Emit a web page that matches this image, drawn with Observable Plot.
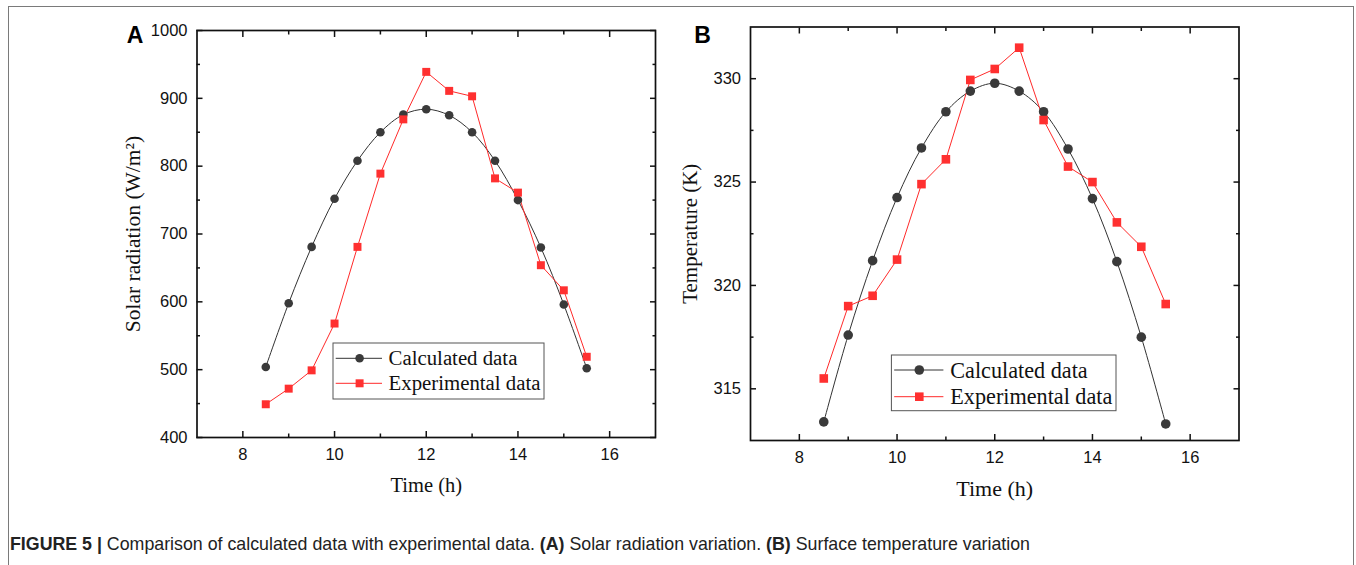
<!DOCTYPE html>
<html><head><meta charset="utf-8">
<script src="https://cdn.jsdelivr.net/npm/d3@7"></script>
<script src="https://cdn.jsdelivr.net/npm/@observablehq/plot@0.6"></script>
<style>
html,body{margin:0;padding:0;background:#fff;}
#fig{position:relative;width:1356px;height:565px;overflow:hidden;background:#fff;}
.panel{position:absolute;top:0;width:678px;height:510px;}
.panel svg{position:absolute;left:0;top:0;}
#border{position:absolute;left:8px;top:6px;width:1346px;height:620px;border:1px solid #7a7a7a;box-sizing:border-box;}
#caption{position:absolute;left:10px;top:534px;font-family:"Liberation Sans Narrow","Liberation Sans",Arial,sans-serif;font-size:17.8px;color:#222;white-space:nowrap;}
</style></head>
<body><div id="fig"><div id="border"></div>
<div id="A" class="panel" style="left:0px"></div>
<div id="B" class="panel" style="left:678px"></div>
<div id="caption"><b>FIGURE 5 |</b> Comparison of calculated data with experimental data. <b>(A)</b> Solar radiation variation. <b>(B)</b> Surface temperature variation</div>
</div>
<script>
// ---------- data ----------
const time = [8.5, 9, 9.5, 10, 10.5, 11, 11.5, 12, 12.5, 13, 13.5, 14, 14.5, 15, 15.5];
const radCalc = [504, 598, 681, 752, 808, 850, 876, 884, 875, 850, 808, 750, 680, 596, 502];
const radExp  = [449, 472, 499, 568, 681, 789, 869, 939, 911, 903, 782, 761, 654, 617, 519];
const tempCalc = [313.4, 317.6, 321.2, 324.25, 326.65, 328.4, 329.4, 329.78, 329.4, 328.4, 326.6, 324.2, 321.15, 317.5, 313.3];
const tempExp  = [315.5, 319.0, 319.5, 321.25, 324.9, 326.1, 329.94, 330.47, 331.5, 328.0, 325.75, 325.0, 323.05, 321.87, 319.1];
const seriesNames = ["Calculated data", "Experimental data"];
const xMajor = [8, 10, 12, 14, 16];
const xMinor = [9, 11, 13, 15];
const radMajor = [400, 500, 600, 700, 800, 900, 1000];
const radMinor = [450, 550, 650, 750, 850, 950];
const tempMajor = [315, 320, 325, 330];
const tempMinor = [317.5, 322.5, 327.5];
const panelLetters = ["A", "B"];
const xTitle = "Time (h)";
const radTitle = "Solar radiation (W/m²)";
const tempTitle = "Temperature (K)";

const CALC_COLOR = "#3a3a3a", CALC_LINE = "#333";
const EXP_COLOR = "#ff3030", EXP_LINE = "#ff2a2a";
const SANS = "'Liberation Sans', Arial, sans-serif";
const SERIF = "'Liberation Serif', 'Times New Roman', serif";

function rows(vals) { return time.map((t, i) => ({t, v: vals[i]})); }

function panel(el, cfg) {
  const calc = rows(cfg.calc), exp = rows(cfg.exp);
  const tickFont = {fontSize: cfg.tickFont, fontFamily: SANS, fill: "#111", tickFormat: d3.format("d")};
  const none = () => "";
  const chart = Plot.plot({
    width: 678, height: 510,
    marginLeft: cfg.m[0], marginRight: cfg.m[1], marginTop: cfg.m[2], marginBottom: cfg.m[3],
    x: {domain: [7, 17], label: null},
    y: {domain: cfg.yDomain, label: null},
    style: {fontFamily: SANS, fontSize: cfg.tickFont + "px", color: "#111", background: "transparent"},
    marks: [
      // tick labels
      Plot.axisX(xMajor, {anchor: "bottom", tickSize: 0, tickPadding: 11, label: null, ...tickFont}),
      Plot.axisY(cfg.yMajor, {anchor: "left", tickSize: 0, tickPadding: 9.5, label: null, ...tickFont}),
      // inward ticks, all four sides
      Plot.axisX(xMajor, {anchor: "bottom", tickSize: -6, tickFormat: none, label: null, strokeWidth: 1.5, stroke: "#111"}),
      Plot.axisX(xMinor, {anchor: "bottom", tickSize: -3.5, tickFormat: none, label: null, strokeWidth: 1.5, stroke: "#111"}),
      Plot.axisX(xMajor, {anchor: "top", tickSize: -6, tickFormat: none, label: null, strokeWidth: 1.5, stroke: "#111"}),
      Plot.axisX(xMinor, {anchor: "top", tickSize: -3.5, tickFormat: none, label: null, strokeWidth: 1.5, stroke: "#111"}),
      Plot.axisY(cfg.yMajor, {anchor: "left", tickSize: -6, tickFormat: none, label: null, strokeWidth: 1.5, stroke: "#111"}),
      Plot.axisY(cfg.yMinor, {anchor: "left", tickSize: -3.5, tickFormat: none, label: null, strokeWidth: 1.5, stroke: "#111"}),
      Plot.axisY(cfg.yMajor, {anchor: "right", tickSize: -6, tickFormat: none, label: null, strokeWidth: 1.5, stroke: "#111"}),
      Plot.axisY(cfg.yMinor, {anchor: "right", tickSize: -3.5, tickFormat: none, label: null, strokeWidth: 1.5, stroke: "#111"}),
      Plot.frame({stroke: "#111", strokeWidth: 1.7}),
      // data
      Plot.line(calc, {x: "t", y: "v", curve: "catmull-rom", stroke: CALC_LINE, strokeWidth: 1}),
      Plot.line(exp, {x: "t", y: "v", stroke: EXP_LINE, strokeWidth: 1}),
      Plot.dot(calc, {x: "t", y: "v", r: cfg.dotR, fill: CALC_COLOR}),
      Plot.dot(exp, {x: "t", y: "v", r: cfg.sqR, symbol: "square", fill: EXP_COLOR}),
      // titles
      Plot.text([xTitle], {frameAnchor: "bottom", dy: 48, fontFamily: SERIF, fontSize: cfg.titleFont, fill: "#111", lineAnchor: "middle", textAnchor: "middle"}),
      Plot.text([cfg.yTitle], {frameAnchor: "left", dx: cfg.yTitleDx, rotate: -90, fontFamily: SERIF, fontSize: cfg.yTitleFont, fill: "#111", lineAnchor: "middle", textAnchor: "middle"}),
      Plot.text([cfg.letter], {frameAnchor: "top-left", dx: cfg.letterD[0], dy: cfg.letterD[1], fontFamily: SANS, fontWeight: "bold", fontSize: 23, fill: "#000", lineAnchor: "middle", textAnchor: "middle"})
    ]
  });
  el.appendChild(chart);

  // legend overlay (inside plot area)
  const L = cfg.legend;
  const svg = d3.select(el).append("svg").attr("width", 678).attr("height", 510).style("pointer-events", "none");
  svg.append("rect").attr("x", L.x0).attr("y", L.y0).attr("width", L.x1 - L.x0).attr("height", L.y1 - L.y0)
    .attr("fill", "#fff").attr("stroke", "#555").attr("stroke-width", 1);
  const styles = [
    {line: CALC_LINE, fill: CALC_COLOR, sym: "circle"},
    {line: EXP_LINE, fill: EXP_COLOR, sym: "square"}
  ];
  seriesNames.forEach((name, i) => {
    const y = L.rows[i], s = styles[i];
    svg.append("line").attr("x1", L.lx0).attr("x2", L.lx1).attr("y1", y).attr("y2", y).attr("stroke", s.line).attr("stroke-width", 1);
    if (s.sym === "circle") svg.append("circle").attr("cx", L.mx).attr("cy", y).attr("r", cfg.dotR).attr("fill", s.fill);
    else { const a = cfg.sqR * Math.sqrt(Math.PI); svg.append("rect").attr("x", L.mx - a / 2).attr("y", y - a / 2).attr("width", a).attr("height", a).attr("fill", s.fill); }
    svg.append("text").attr("x", L.tx).attr("y", y).attr("dy", "0.34em").attr("font-family", SERIF).attr("font-size", L.font).attr("fill", "#111").text(name);
  });
}

panel(document.getElementById("A"), {
  calc: radCalc, exp: radExp, yDomain: [400, 1000], yMajor: radMajor, yMinor: radMinor,
  m: [196.5, 23, 30, 73], tickFont: 16.5, titleFont: 20.5, yTitle: radTitle, yTitleFont: 21.5, yTitleDx: -63.5,
  letter: panelLetters[0], letterD: [-62, 5.5], dotR: 4.3, sqR: 4.5,
  legend: {x0: 333, x1: 544, y0: 343, y1: 399, rows: [358.3, 383.3], lx0: 335.7, lx1: 382, mx: 359.6, tx: 388.6, font: 20.8}
});
panel(document.getElementById("B"), {
  calc: tempCalc, exp: tempExp, yDomain: [312.5, 332.5], yMajor: tempMajor, yMinor: tempMinor,
  m: [72, 117.5, 26.5, 70], tickFont: 16.5, titleFont: 22, yTitle: tempTitle, yTitleFont: 21, yTitleDx: -60,
  letter: panelLetters[1], letterD: [-48, 8.5], dotR: 4.8, sqR: 4.85,
  legend: {x0: 891.4 - 678, x1: 1116 - 678, y0: 355, y1: 410.7, rows: [370, 396.7], lx0: 894.2 - 678, lx1: 943.4 - 678, mx: 919.3 - 678, tx: 950.3 - 678, font: 22.2}
});
</script>
</body></html>
